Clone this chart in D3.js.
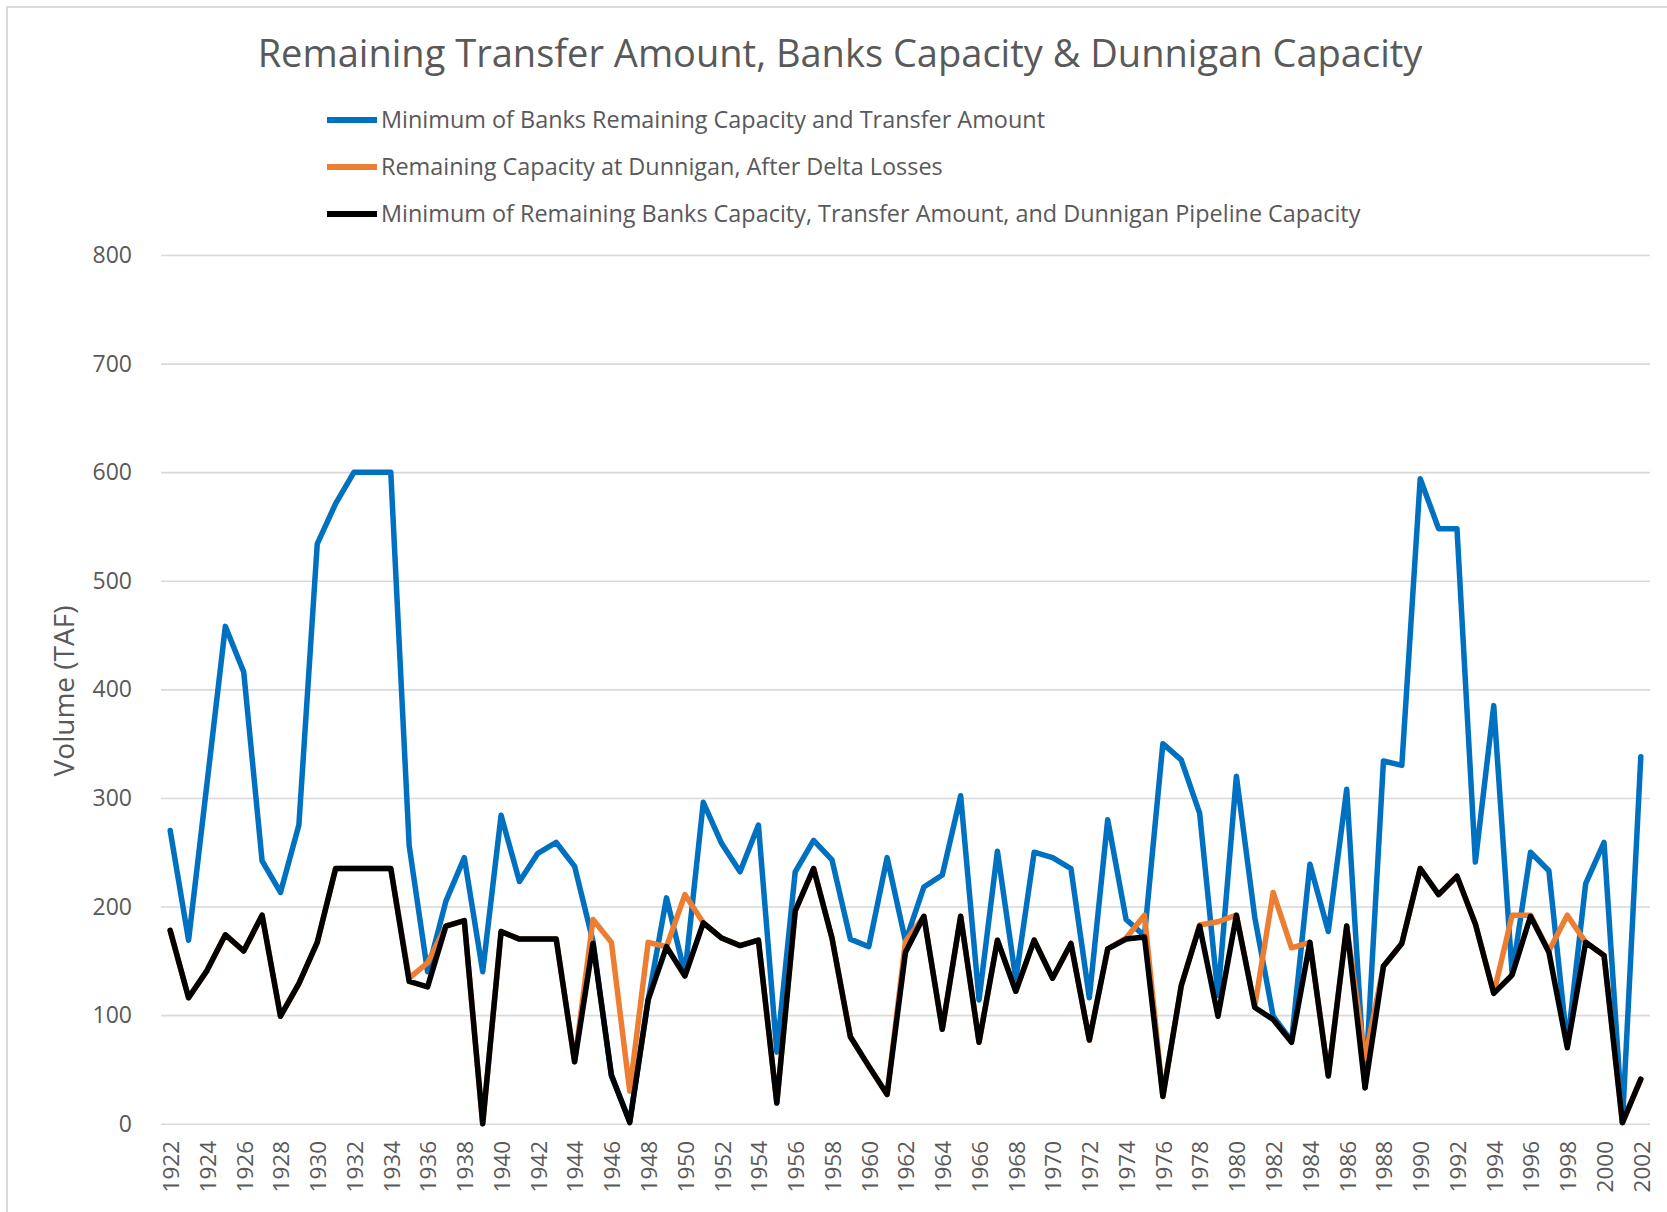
<!DOCTYPE html>
<html>
<head>
<meta charset="utf-8">
<script src="https://cdn.jsdelivr.net/npm/d3@7"></script>
<style>
  body { margin: 0; background: #fff; }
  svg { display: block; }
  text { font-family: 'Open Sans', 'Noto Sans', sans-serif; fill: #595959; }
</style>
</head>
<body>
<div id="chart"></div>
<script>
let years = d3.range(1922, 2003)

let seriesNames = [
    'Minimum of Banks Remaining Capacity and Transfer Amount',
    'Remaining Capacity at Dunnigan, After Delta Losses',
    'Minimum of Remaining Banks Capacity, Transfer Amount, and Dunnigan Pipeline Capacity'
]

let banksTransfer = [
    270, 169, 313, 458, 416, 242, 213, 275, 534, 571,
    600, 600, 600, 256, 140, 205, 245, 140, 284, 223,
    249, 259, 237, 168, 44, 2, 114, 208, 138, 296,
    258, 232, 275, 66, 232, 261, 243, 170, 163, 245,
    168, 218, 229, 302, 114, 251, 133, 250, 245, 235,
    116, 280, 188, 173, 350, 335, 286, 118, 320, 190,
    99, 76, 239, 177, 308, 33, 334, 330, 594, 548,
    548, 241, 385, 138, 250, 233, 72, 221, 259, 1,
    338
]

let dunniganRemaining = [
    178, 116, 141, 174, 159, 192, 99, 129, 167, 235,
    235, 235, 235, 134, 148, 182, 187, 0, 177, 170,
    170, 170, 57, 188, 167, 30, 167, 163, 211, 185,
    171, 164, 169, 19, 196, 235, 171, 80, 53, 27,
    168, 191, 87, 191, 75, 169, 122, 169, 134, 166,
    77, 161, 171, 192, 25, 127, 183, 186, 192, 108,
    213, 162, 167, 44, 182, 60, 145, 166, 235, 211,
    228, 184, 120, 192, 192, 159, 192, 167, 155, 1,
    41
]

let minAll = [
    178, 116, 141, 174, 159, 192, 99, 129, 167, 235,
    235, 235, 235, 131, 126, 182, 187, 0, 177, 170,
    170, 170, 57, 166, 45, 1, 114, 163, 136, 185,
    171, 164, 169, 19, 196, 235, 171, 80, 53, 27,
    158, 191, 87, 191, 75, 169, 122, 169, 134, 166,
    77, 161, 170, 172, 25, 127, 182, 99, 192, 107,
    96, 75, 167, 44, 182, 33, 145, 166, 235, 211,
    228, 184, 120, 137, 191, 158, 70, 167, 155, 1,
    41
]

let yTicks = [0, 100, 200, 300, 400, 500, 600, 700, 800]
let colors = ['#0070C0', '#ED7D31', '#000000']

let W = 1667, H = 1212
let svg = d3.select('#chart')
    .append('svg')
    .attr('width', W)
    .attr('height', H)

// chart frame
svg.append('rect')
    .attr('x', 7)
    .attr('y', 7)
    .attr('width', W + 20)
    .attr('height', H + 20)
    .attr('fill', 'none')
    .attr('stroke', '#d9d9d9')
    .attr('stroke-width', 2)

let xScale = d3.scalePoint()
    .domain(years)
    .range([161, 1650])
    .padding(0.5)

let yScale = d3.scaleLinear()
    .domain([0, 800])
    .range([1123.7, 255])

// gridlines
let grid = svg.append('g')
    .attr('transform', 'translate(161,0)')
    .call(d3.axisLeft(yScale).tickValues(yTicks).tickSize(-(1650 - 161)).tickFormat(''))
grid.select('.domain').remove()
grid.selectAll('line').attr('stroke', '#d9d9d9').attr('stroke-width', 1.6)

// y tick labels
svg.selectAll('.ytick')
    .data(yTicks)
    .enter()
    .append('text')
    .attr('class', 'ytick')
    .attr('x', 132)
    .attr('y', d => yScale(d))
    .attr('dy', '0.35em')
    .attr('text-anchor', 'end')
    .attr('font-size', 23)
    .text(d => d)

// x tick labels, every other year
svg.selectAll('.xtick')
    .data(years.filter(y => (y - 1922) % 2 === 0))
    .enter()
    .append('text')
    .attr('class', 'xtick')
    .attr('transform', d => `translate(${xScale(d) + 1},1141) rotate(-90)`)
    .attr('dy', '0.35em')
    .attr('text-anchor', 'end')
    .attr('font-size', 22.5)
    .text(d => d)

// y axis title
svg.append('text')
    .attr('transform', 'translate(64,691) rotate(-90)')
    .attr('text-anchor', 'middle')
    .attr('dy', '0.35em')
    .attr('font-size', 28)
    .text('Volume (TAF)')

// lines
let line = d3.line()
    .x((d, i) => xScale(years[i]))
    .y(d => yScale(d))

let allSeries = [banksTransfer, dunniganRemaining, minAll]
svg.selectAll('.series')
    .data(allSeries)
    .enter()
    .append('path')
    .attr('class', 'series')
    .attr('d', d => line(d))
    .attr('fill', 'none')
    .attr('stroke', (d, i) => colors[i])
    .attr('stroke-width', 5.5)
    .attr('stroke-linejoin', 'round')
    .attr('stroke-linecap', 'round')

// title, sized to the reference width
let title = svg.append('text')
    .attr('x', 840)
    .attr('y', 67)
    .attr('text-anchor', 'middle')
    .attr('font-size', 38)
    .text('Remaining Transfer Amount, Banks Capacity & Dunnigan Capacity')
let tw = title.node().getComputedTextLength()
title.attr('font-size', 38 * 1165 / tw)

// legend
let legendRows = [120, 167, 214]
let legend = svg.selectAll('.legend')
    .data(seriesNames)
    .enter()
    .append('g')
    .attr('class', 'legend')
    .attr('transform', (d, i) => `translate(0,${legendRows[i]})`)

legend.append('line')
    .attr('x1', 327)
    .attr('x2', 377)
    .attr('stroke', (d, i) => colors[i])
    .attr('stroke-width', 6)

let legendText = legend.append('text')
    .attr('x', 381)
    .attr('dy', '0.35em')
    .attr('font-size', 22)
    .text(d => d)
let lw = legendText.nodes()[2].getComputedTextLength()
legendText.attr('font-size', 22 * 980 / lw)
</script>
</body>
</html>
